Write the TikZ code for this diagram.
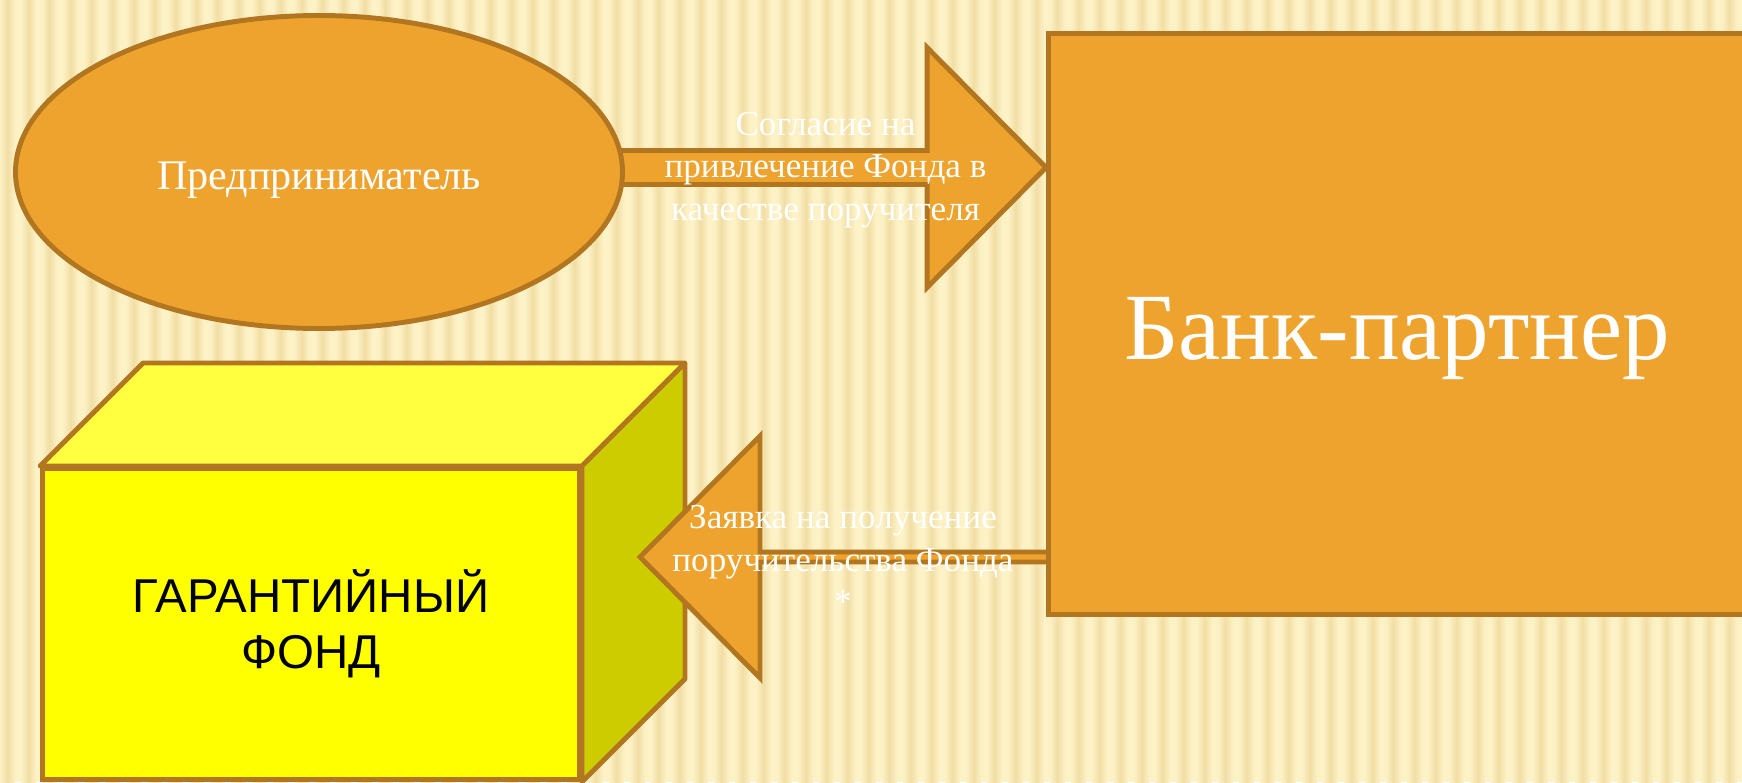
\documentclass[tikz,border=0pt]{standalone}
\usepackage{fontspec}
\setmainfont{Liberation Serif}
\newfontfamily\arialfont{Liberation Sans}
\usetikzlibrary{shapes.geometric,calc}
\definecolor{paperBg}{RGB}{253,241,198}
\definecolor{paperStripe}{RGB}{240,222,164}
\definecolor{bankOrange}{RGB}{238,163,47}
\definecolor{edgeBrown}{RGB}{178,118,32}
\definecolor{boxFront}{RGB}{255,255,0}
\definecolor{boxTop}{RGB}{255,255,64}
\definecolor{boxSide}{RGB}{204,204,0}
\pgfdeclarelayer{paper}
\pgfdeclarelayer{box}
\pgfdeclarelayer{arrows}
\pgfsetlayers{paper,box,arrows,main}

\begin{document}
\begin{tikzpicture}[every node/.style={align=center, text=white},
  outline/.style={draw=edgeBrown, line width=2.8pt},
  fatarrow/.style={outline, fill=bankOrange, line join=miter}]
\useasboundingbox (0,0) rectangle (34.84,15.64);

% Paper background
\begin{pgfonlayer}{paper}
\fill[paperBg] (0,0) rectangle (34.84,15.64);
\foreach \i in {0,...,83}
  \shade[left color=paperBg, right color=paperBg, middle color=paperStripe]
    (\i*0.42,0) rectangle ++(0.3,15.64);
\end{pgfonlayer}

% Guarantee fund box
\begin{pgfonlayer}{box}
\node[outline, fill=boxFront, minimum width=10.74cm, minimum height=6.22cm, inner sep=0,
  text=black, font=\arialfont\fontsize{27}{32}\selectfont] (fund) at (6.22,3.16) {ГАРАНТИЙНЫЙ\\ФОНД};
\draw[outline, fill=boxTop, line join=round] (fund.north west) -- ++(2.06,2.06) -- ($(fund.north east)+(2.06,2.06)$) -- (fund.north east) -- cycle;
\draw[outline, fill=boxSide, line join=round] (fund.north east) -- ++(2.06,2.06) -- ($(fund.south east)+(2.06,2.06)$) -- (fund.south east) -- cycle;
\end{pgfonlayer}

% Entrepreneur and bank
\node[outline, fill=bankOrange, ellipse, minimum width=12.14cm, minimum height=6.26cm, inner sep=0,
  font=\fontsize{24}{29}\selectfont] (ent) at (6.38,12.2) {\raisebox{-0.16cm}[\height][\depth]{Предприниматель}};
\node[outline, fill=bankOrange, minimum width=13.94cm, minimum height=11.62cm,
  font=\fontsize{54}{65}\selectfont] (bank) at (27.94,9.16) {\raisebox{-0.3cm}[\height][\depth]{Банк-партнер}};

% Arrows
\coordinate (agree) at ($(ent.east -| bank.west)+(0,0.09)$);
\coordinate (ask) at (12.8,4.5);
\begin{pgfonlayer}{arrows}
\draw[fatarrow] ($(agree -| ent.east)+(-0.3,0.34)$) -- ($(agree)+(-2.38,0.34)$) -- ++(0,2.06) -- (agree)
  -- ($(agree)+(-2.38,-2.4)$) -- ++(0,2.06) -- ($(agree -| ent.east)+(-0.3,-0.34)$) -- cycle;
\draw[fatarrow] ($(bank.west |- ask)+(0.3,0.1)$) -- ($(ask)+(2.4,0.1)$) -- ++(0,2.32) -- (ask)
  -- ($(ask)+(2.4,-2.42)$) -- ++(0,2.32) -- ($(bank.west |- ask)+(0.3,-0.1)$) -- cycle;
\end{pgfonlayer}

% Arrow labels
\node[font=\fontsize{20}{24}\selectfont] (agreeText) at ($(agree -| ent.east)!0.5!(agree)+(-0.2,-0.05)$)
  {Согласие на\\привлечение Фонда в\\качестве поручителя};
\node[font=\fontsize{20}{24}\selectfont] (askText) at ($(ask)!0.5!(bank.west |- ask)+(0,-0.05)$)
  {Заявка на получение\\поручительства Фонда\\*};
\end{tikzpicture}
\end{document}
